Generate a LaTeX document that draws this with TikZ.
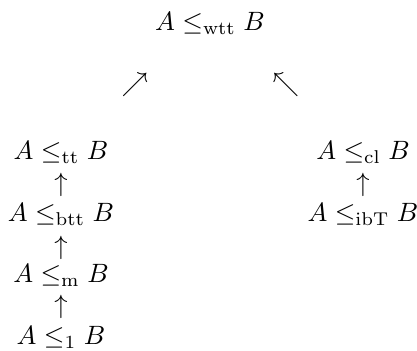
\documentclass[tikz,border=0pt]{standalone}
\usepackage{amsmath}
\begin{document}
\begin{tikzpicture}[x=0.3774pt,y=-0.3774pt,
  rel/.style={inner sep=0pt, anchor=base},
  arr/.style={inner sep=0pt, anchor=center}]
\useasboundingbox (0,0) rectangle (417,351);
\node[rel] (wtt) at (210,31) {$A \le_{\mathrm{wtt}} B$};
\node[arr] (ne) at (135,85) {$\nearrow$};
\node[arr] (nw) at (286,85) {$\nwarrow$};
\node[rel] (tt) at (61,160) {$A \le_{\mathrm{tt}} B$};
\node[arr] (u1) at (61,185) {$\uparrow$};
\node[rel] (btt) at (61,222) {$A \le_{\mathrm{btt}} B$};
\node[arr] (u2) at (61,248) {$\uparrow$};
\node[rel] (m) at (61,283) {$A \le_{\mathrm{m}} B$};
\node[arr] (u3) at (61,307) {$\uparrow$};
\node[rel] (one) at (61,345) {$A \le_{1} B$};
\node[rel] (cl) at (363,160) {$A \le_{\mathrm{cl}} B$};
\node[arr] (u4) at (363,185) {$\uparrow$};
\node[rel] (ibT) at (363,222) {$A \le_{\mathrm{ibT}} B$};
\end{tikzpicture}
\end{document}
